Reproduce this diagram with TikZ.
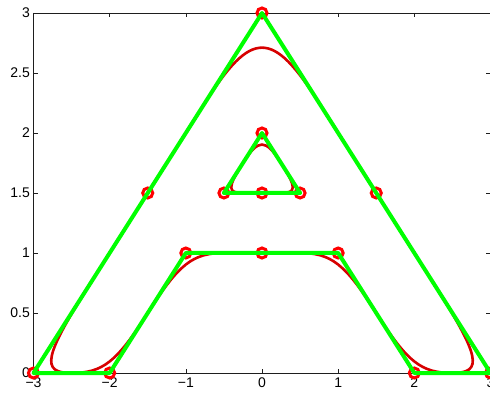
\documentclass[tikz,border=0pt]{standalone}
\usepackage{fontspec}
\setmainfont{Liberation Sans}
\usetikzlibrary{calc}
\definecolor{mgreen}{rgb}{0,1,0}
\definecolor{mred}{rgb}{1,0,0}
\definecolor{cred}{RGB}{215,0,0}
\definecolor{axgray}{RGB}{30,30,30}
\def\kk{0.82}
\begin{document}
\begin{tikzpicture}[x=76.17pt,y=120pt,
  axisline/.style={line width=0.6pt, draw=axgray},
  ctrlpoly/.style={draw=mgreen, line width=4pt, line join=round, line cap=round},
  spline/.style={draw=cred, line width=2.6pt},
  marker/.style={draw=mred, line width=3pt},
  ticklab/.style={font=\fontsize{14}{16}\selectfont, text=black, inner sep=0pt}]
\useasboundingbox (-3.4397,-0.175) rectangle (2.9933,3.1083);
% axes
\draw[axisline] (-3,0) rectangle (3,3);
\foreach \x/\t [count=\i] in {-3/−3,-2/−2,-1/−1,0/0,1/1,2/2,3/3} {
  \draw[axisline] (\x,0) -- ++(0,4.5pt);
  \draw[axisline] (\x,3) -- ++(0,-4.5pt);
  \node[ticklab, anchor=north, yshift=-5pt] (xl\i) at (\x,0) {\t};
}
\foreach \y [count=\i] in {0,0.5,1,1.5,2,2.5,3} {
  \draw[axisline] (-3,\y) -- ++(4.5pt,0);
  \draw[axisline] (3,\y) -- ++(-4.5pt,0);
  \node[ticklab, anchor=east, xshift=-3.5pt] (yl\i) at (-3,\y) {\y};
}
% control points
\coordinate (p0) at (-3,0);
\coordinate (p1) at (-1.5,1.5);
\coordinate (p2) at (0,3);
\coordinate (p3) at (1.5,1.5);
\coordinate (p4) at (3,0);
\coordinate (p5) at (2,0);
\coordinate (p6) at (1,1);
\coordinate (p7) at (0,1);
\coordinate (p8) at (-1,1);
\coordinate (p9) at (-2,0);
\coordinate (q0) at (0,2);
\coordinate (q1) at (0.5,1.5);
\coordinate (q2) at (0,1.5);
\coordinate (q3) at (-0.5,1.5);
% midpoints
\coordinate (m0) at ($(p0)!0.5!(p1)$);
\coordinate (m1) at ($(p1)!0.5!(p2)$);
\coordinate (m2) at ($(p2)!0.5!(p3)$);
\coordinate (m3) at ($(p3)!0.5!(p4)$);
\coordinate (m4) at ($(p4)!0.5!(p5)$);
\coordinate (m5) at ($(p5)!0.5!(p6)$);
\coordinate (m6) at ($(p6)!0.5!(p7)$);
\coordinate (m7) at ($(p7)!0.5!(p8)$);
\coordinate (m8) at ($(p8)!0.5!(p9)$);
\coordinate (m9) at ($(p9)!0.5!(p0)$);
\coordinate (n0) at ($(q0)!0.5!(q1)$);
\coordinate (n1) at ($(q1)!0.5!(q2)$);
\coordinate (n2) at ($(q2)!0.5!(q3)$);
\coordinate (n3) at ($(q3)!0.5!(q0)$);
% red spline curves
\draw[spline] (m9)
  .. controls ($(m9)!\kk!(p0)$) and ($(m0)!\kk!(p0)$) .. (m0)
  .. controls ($(m0)!\kk!(p1)$) and ($(m1)!\kk!(p1)$) .. (m1)
  .. controls ($(m1)!\kk!(p2)$) and ($(m2)!\kk!(p2)$) .. (m2)
  .. controls ($(m2)!\kk!(p3)$) and ($(m3)!\kk!(p3)$) .. (m3)
  .. controls ($(m3)!\kk!(p4)$) and ($(m4)!\kk!(p4)$) .. (m4)
  .. controls ($(m4)!\kk!(p5)$) and ($(m5)!\kk!(p5)$) .. (m5)
  .. controls ($(m5)!\kk!(p6)$) and ($(m6)!\kk!(p6)$) .. (m6)
  .. controls ($(m6)!\kk!(p7)$) and ($(m7)!\kk!(p7)$) .. (m7)
  .. controls ($(m7)!\kk!(p8)$) and ($(m8)!\kk!(p8)$) .. (m8)
  .. controls ($(m8)!\kk!(p9)$) and ($(m9)!\kk!(p9)$) .. (m9) -- cycle;
\draw[spline] (n3)
  .. controls ($(n3)!\kk!(q0)$) and ($(n0)!\kk!(q0)$) .. (n0)
  .. controls ($(n0)!\kk!(q1)$) and ($(n1)!\kk!(q1)$) .. (n1)
  .. controls ($(n1)!\kk!(q2)$) and ($(n2)!\kk!(q2)$) .. (n2)
  .. controls ($(n2)!\kk!(q3)$) and ($(n3)!\kk!(q3)$) .. (n3) -- cycle;
% markers
\foreach \c in {p0,p1,p2,p3,p4,p5,p6,p7,p8,p9,q0,q1,q2,q3}
  \draw[marker] (\c) circle[radius=5pt];
% control polygons
\draw[ctrlpoly] (p0) -- (p1) -- (p2) -- (p3) -- (p4) -- (p5) -- (p6) -- (p7) -- (p8) -- (p9) -- cycle;
\draw[ctrlpoly] (q0) -- (q1) -- (q2) -- (q3) -- cycle;
\end{tikzpicture}
\end{document}
